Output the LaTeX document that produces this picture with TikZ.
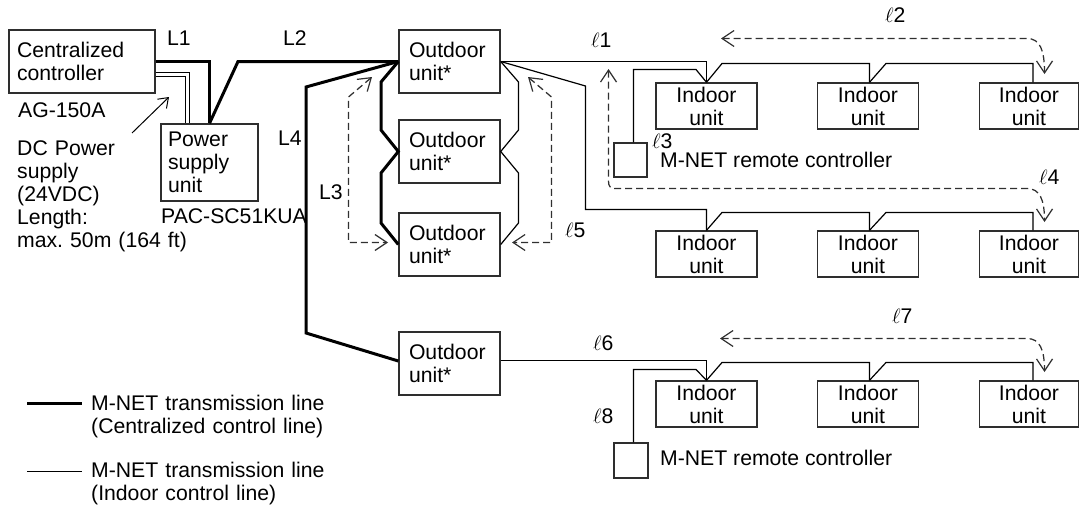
\documentclass[tikz,border=0pt]{standalone}
\usepackage{fontspec}
\setmainfont{Liberation Sans}
\usetikzlibrary{arrows.meta}
\definecolor{boxc}{HTML}{2E2E2E}
\definecolor{dimc}{HTML}{303030}
\frenchspacing
\tikzset{
  every node/.style={font=\fontsize{21.2}{23}\selectfont, inner sep=0pt},
  unitbox/.style={draw=boxc, line width=1.4pt, rectangle},
  outbox/.style={unitbox, minimum width=101pt, minimum height=63pt, text width=81pt, align=left},
  inbox/.style={unitbox, minimum width=101pt, minimum height=46pt, align=center},
  rcbox/.style={unitbox, minimum width=33pt, minimum height=34pt},
  lbl/.style={anchor=base west},
  mlbl/.style={anchor=base west, text width=320pt, align=left},
  thk/.style={line width=3pt, line join=miter},
  thn/.style={line width=1.2pt},
  barb/.tip={Straight Barb[length=12pt,width=16pt,line width=1.2pt]},
  dim/.style={line width=1.25pt, draw=dimc, dash pattern=on 7pt off 4pt, barb-barb}
}
\begin{document}
\begin{tikzpicture}[x=1pt,y=-1pt]
\useasboundingbox (0,0) rectangle (1079,506);

% boxes
\node[unitbox, minimum width=146pt, minimum height=63pt, text width=130pt, align=left] (cc) at (82,61.5) {Centralized\\controller};
\node[unitbox, minimum width=97pt, minimum height=77pt, text width=83pt, align=left] (psu) at (209.5,162.5) {Power\\supply\\unit};
\node[outbox] (ou1) at (449.5,61.5) {Outdoor\\unit*};
\node[outbox] (ou2) at (449.5,151.5) {Outdoor\\unit*};
\node[outbox] (ou3) at (449.5,244.5) {Outdoor\\unit*};
\node[outbox] (ou4) at (449.5,363.5) {Outdoor\\unit*};

\node[inbox] (in11) at (706.5,106) {Indoor\\unit};
\node[inbox] (in12) at (868,106) {Indoor\\unit};
\node[inbox, minimum width=99pt] (in13) at (1029,106) {Indoor\\unit};
\node[inbox] (in21) at (706.5,254) {Indoor\\unit};
\node[inbox] (in22) at (868,254) {Indoor\\unit};
\node[inbox, minimum width=99pt] (in23) at (1029,254) {Indoor\\unit};
\node[inbox] (in31) at (706.5,404) {Indoor\\unit};
\node[inbox] (in32) at (868,404) {Indoor\\unit};
\node[inbox, minimum width=99pt] (in33) at (1029,404) {Indoor\\unit};

\node[rcbox] (rc1) at (630.5,160) {};
\node[rcbox, minimum width=34pt, minimum height=35pt] (rc2) at (631,460.5) {};

% labels
\node[lbl] (tL1) at (167,45) {L1};
\node[lbl] (tL2) at (283,45) {L2};
\node[lbl] (tL4) at (278,145) {L4};
\node[lbl] (tL3) at (319,199) {L3};
\node[lbl] (tag) at (18,117) {AG-150A};
\node[lbl] (tpac) at (161,223) {PAC-SC51KUA};
\node[mlbl] (tdc) at (17,155) {DC Power\\supply\\(24VDC)\\Length:\\max. 50m (164 ft)};
\node[lbl] (l1) at (591,47) {$\ell$1};
\node[lbl] (l2) at (885,23) {$\ell$2};
\node[lbl] (l3) at (652,148) {$\ell$3};
\node[lbl] (l4) at (1039,184) {$\ell$4};
\node[lbl] (l5) at (565,237) {$\ell$5};
\node[lbl] (l6) at (593,350) {$\ell$6};
\node[lbl] (l7) at (892,323) {$\ell$7};
\node[lbl] (l8) at (593,423) {$\ell$8};
\node[lbl] (trc1) at (660,167) {M-NET remote controller};
\node[lbl] (trc2) at (660,465) {M-NET remote controller};
\node[mlbl] (lg1) at (91,410) {M-NET transmission line\\(Centralized control line)};
\node[mlbl] (lg2) at (91,477) {M-NET transmission line\\(Indoor control line)};

% legend samples
\draw[thk] (27,403.5) -- (82,403.5);
\draw[thn] (27,471.5) -- (82,471.5);

% centralized control lines
\draw[thk] (cc.east) -| (psu.north);
\draw[thn, line width=1pt] ([yshift=-10.5pt]cc.east) -| ([xshift=-20.5pt]psu.north);
\draw[thn, line width=1pt] ([yshift=-14.5pt]cc.east) -| ([xshift=-24.5pt]psu.north);
\draw[thn, line width=1pt, -{Straight Barb[length=9pt,width=13pt,line width=1pt]}] (132,133) -- (169,97);
\draw[thk] (psu.north) -- (238,61.5) -- (ou1.west);
\draw[thk] (ou1.west) -- (306,87) -- (306,333) -- ([yshift=2.5pt]ou4.west);
\draw[thk] (ou1.west) -- (381,82) -- (381,130) -- (ou2.west) -- (381,173) -- (381,223) -- (ou3.west);

% indoor control lines
\draw[thn] (ou1.east) -- (518.5,82) -- (518.5,130) -- (ou2.east) -- (518.5,173) -- (518.5,223) -- (ou3.east);
\draw[thn] (ou1.east) -| (in11.north);
\draw[thn] (ou1.east) -- (585.5,86) -- (585.5,209.5) -| (in21.north);
\draw[thn] ([xshift=3pt]rc1.north) -- (633.5,69.5) -- (696,69.5) -- (in11.north);
\draw[thn] (in11.north) -- (722,63.5) -| ([xshift=1.5pt]in12.north);
\draw[thn] ([xshift=1.5pt]in12.north) -- (886,63.5) -| ([xshift=4pt]in13.north);
\draw[thn] (in21.north) -- (722,212.5) -| ([xshift=1.5pt]in22.north);
\draw[thn] ([xshift=1.5pt]in22.north) -- (886,212.5) -| ([xshift=4pt]in23.north);
\draw[thn] ([yshift=3pt]ou4.east) -| (in31.north);
\draw[thn] ([xshift=2.5pt]rc2.north) -- (633.5,369.5) -- (696,369.5) -- (in31.north);
\draw[thn] (in31.north) -- (722,362.5) -| ([xshift=1.5pt]in32.north);
\draw[thn] ([xshift=1.5pt]in32.north) -- (886,362.5) -| ([xshift=4pt]in33.north);

% dimension arrows
\draw[dim] (372,77) -- (348.5,97) -- (348.5,242.5) -- (388,242.5);
\draw[dim] (528,77) -- (551.5,97) -- (551.5,242.5) -- (512,242.5);
\draw[dim] (721,38.5) -- (1027,38.5) .. controls (1040,38.5) and (1044.5,50) .. (1044.5,74);
\draw[dim] (608.5,69) -- (608.5,181) .. controls (608.5,186) and (610,188.5) .. (615,188.5) -- (1027,188.5) .. controls (1040,188.5) and (1044.5,200) .. (1044.5,222);
\draw[dim] (720,338.5) -- (1027,338.5) .. controls (1040,338.5) and (1044.5,350) .. (1044.5,372);
\end{tikzpicture}
\end{document}
